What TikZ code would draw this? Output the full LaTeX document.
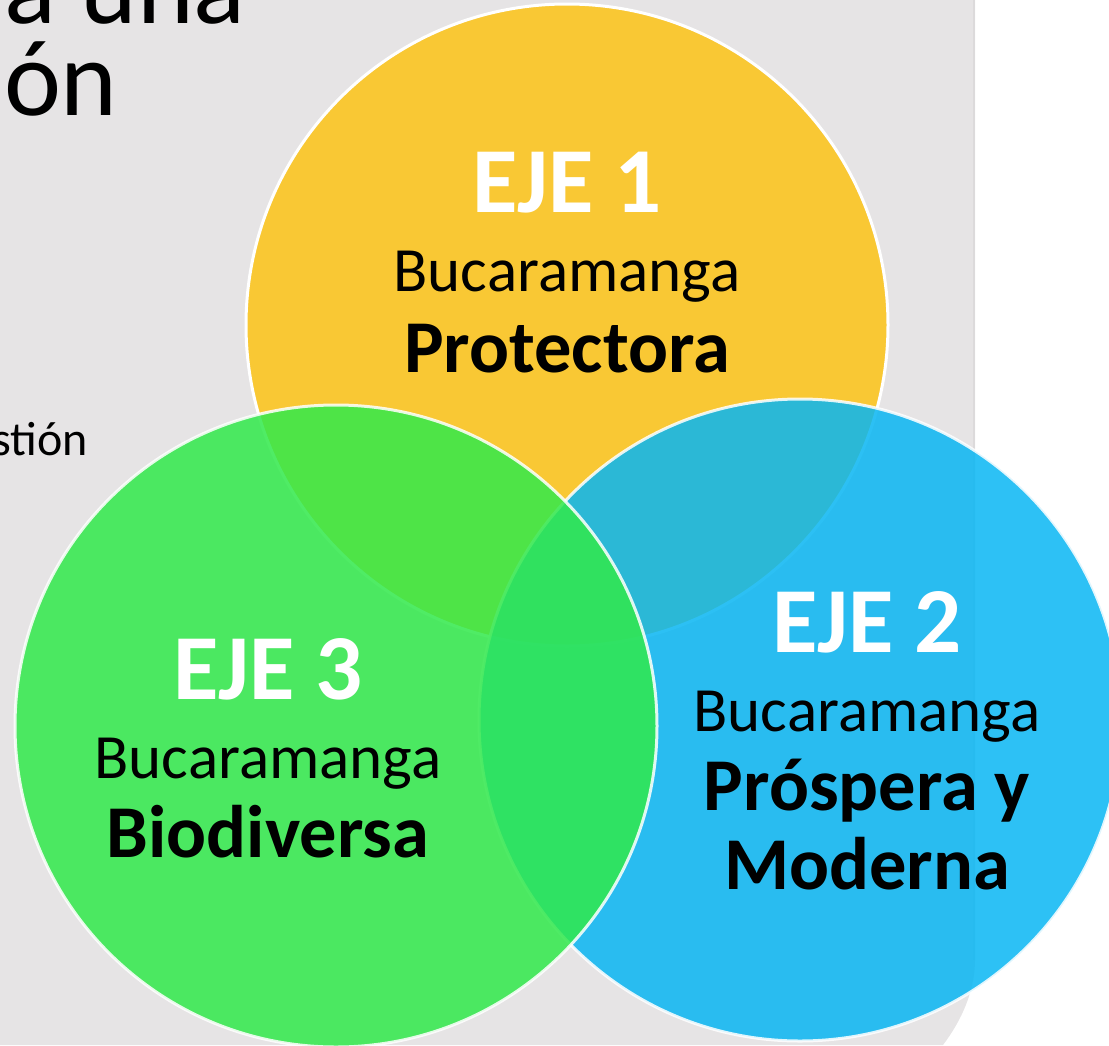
\documentclass[tikz,border=0pt]{standalone}
\usepackage{fontspec}
\setmainfont{Carlito}
\definecolor{panelgray}{RGB}{230,228,229}
\definecolor{paneledge}{RGB}{220,218,219}
\definecolor{yel}{RGB}{249,200,52}
\definecolor{blu}{RGB}{8,182,243}
\definecolor{grn}{RGB}{49,233,75}
\begin{document}
\begin{tikzpicture}[x=1pt,y=-1pt,
  venn/.style={circle, minimum size=642pt, inner sep=0pt, draw=white, line width=3pt},
  ejetxt/.style={font=\bfseries\fontsize{93}{93}\selectfont, text=white, anchor=base, inner sep=0pt},
  buctxt/.style={font=\fontsize{63}{63}\selectfont, text=black, anchor=base, inner sep=0pt},
  nametxt/.style={font=\bfseries\fontsize{74.5}{74.5}\selectfont, text=black, anchor=base, inner sep=0pt},
  bigtxt/.style={font=\fontsize{108}{108}\selectfont, text=black, anchor=base east, inner sep=0pt},
  smalltxt/.style={font=\fontsize{48}{48}\selectfont, text=black, anchor=base east, inner sep=0pt}]
\useasboundingbox (0,0) rectangle (1109,1045);
\clip (0,0) rectangle (1109,1045);
% background panel
\fill[panelgray] (0,0) -- (975,0) -- (975,960) .. controls (975,990) and (962,1020) .. (943,1045) -- (0,1045) -- cycle;
\draw[paneledge, line width=2pt] (974,0) -- (974,960);
% partial slide text
\node[bigtxt] (t1) at (246,23) {a una};
\node[bigtxt] (t2) at (118,115) {ión};
\node[smalltxt] (t3) at (88,455) {stión};
% circles
\node[venn, fill=yel] (cY) at (567,325) {};
\node[venn, fill=blu, fill opacity=0.85, draw opacity=0.85] (cB) at (800,720) {};
\node[venn, fill=grn, fill opacity=0.85, draw opacity=0.85] (cG) at (336,726) {};
% labels
\node[ejetxt] (e1) at (567,212) {EJE 1};
\node[buctxt] (b1) at (567,291) {Bucaramanga};
\node[nametxt] (n1) at (567,372) {Protectora};
\node[ejetxt] (e2) at (867,652) {EJE 2};
\node[buctxt] (b2) at (867,731) {Bucaramanga};
\node[nametxt] (n2) at (867,810) {Próspera y};
\node[nametxt] (n2b) at (867,889) {Moderna};
\node[ejetxt] (e3) at (268,699) {EJE 3};
\node[buctxt] (b3) at (268,778) {Bucaramanga};
\node[nametxt] (n3) at (268,857) {Biodiversa};
\end{tikzpicture}
\end{document}
